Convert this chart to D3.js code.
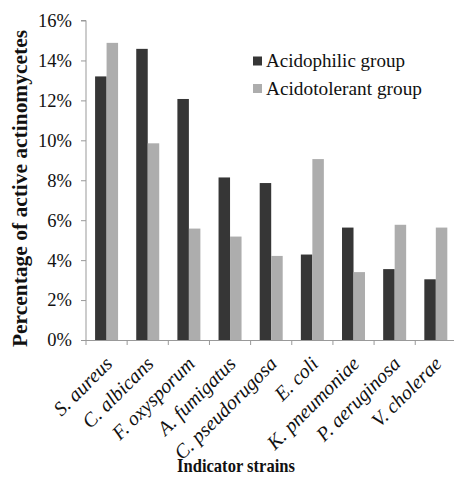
<!DOCTYPE html>
<html><head><meta charset="utf-8">
<script src="https://cdn.jsdelivr.net/npm/d3@7"></script>
<style>body{margin:0;background:#fff}svg{display:block}</style>
</head><body>
<svg id="c" width="454" height="479"></svg>
<script>
const categories = ["S. aureus","C. albicans","F. oxysporum","A. fumigatus","C. pseudorugosa","E. coli","K. pneumoniae","P. aeruginosa","V. cholerae"];
const seriesNames = ["Acidophilic group","Acidotolerant group"];
const acidophilic = [13.2,14.58,12.07,8.14,7.86,4.28,5.63,3.55,3.04];
const acidotolerant = [14.88,9.85,5.58,5.18,4.21,9.06,3.40,5.77,5.63];
const yTicks = [0,2,4,6,8,10,12,14,16];
const colors = ["#363636","#adadad"];

(function(){
const svg = d3.select("#c");
const pL = 86, pR = 456.4, pT = 20.5, pB = 340;
const x = d3.scaleBand().domain(categories).range([pL,pR]).padding(0);
const x1 = d3.scaleBand().domain(seriesNames).range([0,x.bandwidth()]).paddingInner(0).paddingOuter(0.79);
const y = d3.scaleLinear().domain([0,16]).range([pB,pT]);
const serif = "Liberation Serif";

// y axis
const ya = svg.append("g").attr("transform",`translate(${pL},0)`)
  .call(d3.axisLeft(y).tickValues(yTicks).tickSize(5).tickPadding(9).tickFormat(d=>d+"%"));
ya.attr("font-family",null).attr("font-size",null);
ya.select(".domain").attr("stroke","#999").attr("d",`M-5,${y(16)}H0V${pB}`);
ya.selectAll(".tick line").attr("stroke","#999");
ya.selectAll(".tick text").style("font-family",serif).style("font-size","18.5px").attr("fill","#111");

// bars
const data = categories.map((c,i)=>({c, vals:[acidophilic[i],acidotolerant[i]]}));
const g = svg.append("g");
data.forEach(d=>{
  d.vals.forEach((v,j)=>{
    g.append("rect")
      .attr("x",x(d.c)+x1(seriesNames[j]))
      .attr("width",x1.bandwidth())
      .attr("y",y(v))
      .attr("height",y(0)-y(v))
      .attr("fill",colors[j]);
  });
});

// x axis
const xa = svg.append("g");
xa.append("line").attr("x1",pL).attr("x2",pR).attr("y1",pB+0.5).attr("y2",pB+0.5).attr("stroke","#999");
categories.concat([null]).forEach((c,i)=>{
  const px = c===null ? pR : x(c);
  xa.append("line").attr("x1",px).attr("x2",px).attr("y1",pB).attr("y2",pB+5).attr("stroke","#999");
});
categories.forEach(c=>{
  const cx = x(c)+x.bandwidth()/2;
  xa.append("text")
    .attr("transform",`translate(${cx+7},${pB+25}) rotate(-45)`)
    .attr("text-anchor","end")
    .style("font-family",serif).style("font-style","italic").style("font-size","20px").attr("fill","#111")
    .text(c);
});

// titles
svg.append("text").attr("transform",`translate(26.5,${188.5}) rotate(-90)`)
  .attr("text-anchor","middle").style("font-family",serif).style("font-weight","bold").style("font-size","20px").attr("fill","#111")
  .attr("textLength",317).attr("lengthAdjust","spacingAndGlyphs")
  .text("Percentage of active actinomycetes");
svg.append("text").attr("x",236).attr("y",472)
  .attr("text-anchor","middle").style("font-family",serif).style("font-weight","bold").style("font-size","19.5px").attr("fill","#111")
  .attr("textLength",118).attr("lengthAdjust","spacingAndGlyphs")
  .text("Indicator strains");

// legend
const leg = svg.append("g");
const legW = [139, 156];
seriesNames.forEach((s,i)=>{
  const ly = 61 + i*27.5;
  leg.append("rect").attr("x",253).attr("y",ly-4.5).attr("width",9).attr("height",9).attr("fill",colors[i]);
  leg.append("text").attr("x",266).attr("y",ly+6).style("font-family",serif).style("font-size","19px").attr("fill","#111")
    .attr("textLength",legW[i]).attr("lengthAdjust","spacingAndGlyphs").text(s);
});
})();
</script>
</body></html>
